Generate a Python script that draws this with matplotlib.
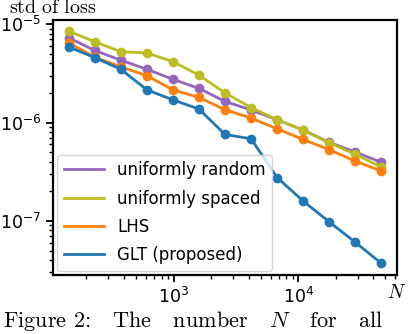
import numpy as np
import matplotlib
matplotlib.use('Agg')
import matplotlib.pyplot as plt

plt.rcParams['mathtext.fontset'] = 'cm'
plt.rcParams['font.family'] = 'DejaVu Sans'

# number of points (Fibonacci numbers)
N = [144, 233, 377, 610, 987, 1597, 2584, 4181, 6765, 10946, 17711, 28657, 46368]

std_random = [7.28e-6, 5.40e-6, 4.30e-6, 3.48e-6, 2.75e-6, 2.22e-6, 1.64e-6,
              1.34e-6, 1.065e-6, 8.4e-7, 6.28e-7, 5.01e-7, 3.94e-7]
std_spaced = [8.49e-6, 6.62e-6, 5.25e-6, 5.09e-6, 4.16e-6, 3.03e-6, 2.00e-6,
              1.42e-6, 1.065e-6, 8.36e-7, 6.21e-7, 4.75e-7, 3.53e-7]
std_lhs = [6.47e-6, 4.62e-6, 3.68e-6, 2.99e-6, 2.15e-6, 1.80e-6, 1.35e-6,
           1.11e-6, 8.63e-7, 6.73e-7, 5.30e-7, 4.04e-7, 3.22e-7]
std_glt = [5.86e-6, 4.57e-6, 3.48e-6, 2.15e-6, 1.70e-6, 1.37e-6, 7.56e-7,
           6.84e-7, 2.76e-7, 1.59e-7, 9.77e-8, 6.07e-8, 3.70e-8]

labels = ['uniformly random', 'uniformly spaced', 'LHS', 'GLT (proposed)']
colors = ['tab:purple', 'tab:olive', 'tab:orange', 'tab:blue']
series = [std_random, std_spaced, std_lhs, std_glt]

fig = plt.figure(figsize=(4.08, 3.34), dpi=100)
ax = fig.add_axes([0.130, 0.1766, 0.843, 0.765])

for y, c, lab in zip(series, colors, labels):
    ax.plot(N, y, color=c, lw=2, label=lab)
    ax.plot(N, y, 'o', color=c, ms=6)

ax.set_xscale('log')
ax.set_yscale('log')

for s in ax.spines.values():
    s.set_linewidth(1.6)
ax.tick_params(which='major', length=5, width=1.3, labelsize=12.5)
ax.tick_params(which='minor', length=3, width=1.0)

ax.text(0, 1.008, r'$\mathrm{std\ of\ loss}$', transform=ax.transAxes,
        ha='center', va='bottom', fontsize=14.5)
ax.text(1, -0.03, r'$N$', transform=ax.transAxes, ha='center', va='top',
        fontsize=14)

ax.legend(loc='lower left', fontsize=12, handlelength=2.4,
          labelspacing=0.62, borderaxespad=0.25)

fig.text(0.008, 0.02, 'Figure 2:   The   number   $N$   for   all',
         fontsize=16, family='cmr10', ha='left', va='baseline')

fig.savefig('out.png', dpi=100)
